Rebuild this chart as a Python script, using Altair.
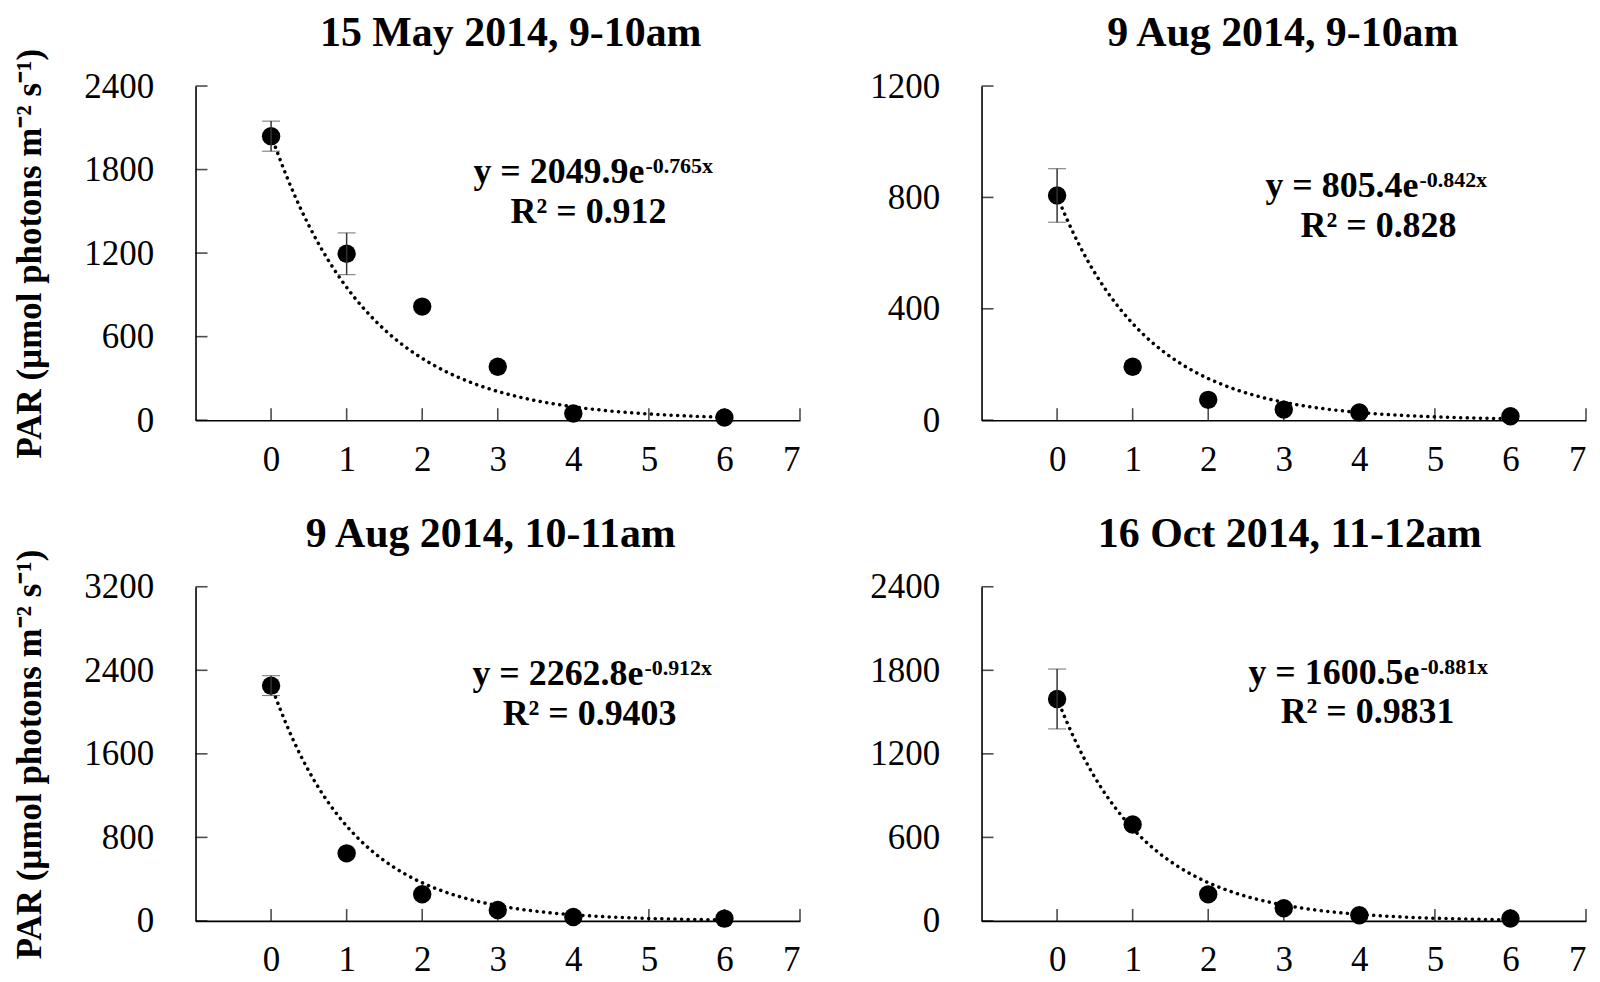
import altair as alt
import pandas as pd

SERIF = "Liberation Serif"

depth = [0, 1, 2, 3, 4, 6]
x_ticks = [0, 1, 2, 3, 4, 5, 6, 7]

titles = ["15 May 2014, 9-10am", "9 Aug 2014, 9-10am",
          "9 Aug 2014, 10-11am", "16 Oct 2014, 11-12am"]

par_may = [2040, 1195, 816, 384, 48, 19]
err_may = [108, 150, 0, 0, 0, 0]
par_aug_9 = [807, 192, 73, 38, 28, 14]
err_aug_9 = [96, 0, 0, 0, 0, 0]
par_aug_10 = [2253, 647, 255, 105, 38, 22]
err_aug_10 = [95, 0, 0, 0, 0, 0]
par_oct = [1594, 693, 191, 91, 41, 17]
err_oct = [215, 0, 0, 0, 0, 0]

fit_a = [2049.9, 805.4, 2262.8, 1600.5]
fit_b = [-0.765, -0.842, -0.912, -0.881]
r2 = ["0.912", "0.828", "0.9403", "0.9831"]

y_max = [2400, 1200, 3200, 2400]
y_ticks = [[0, 600, 1200, 1800, 2400],
           [0, 400, 800, 1200],
           [0, 800, 1600, 2400, 3200],
           [0, 600, 1200, 1800, 2400]]

pars = [par_may, par_aug_9, par_aug_10, par_oct]
errs = [err_may, err_aug_9, err_aug_10, err_oct]

y_title = "PAR (µmol photons m⁻² s⁻¹)"

W, H = 606, 335
TICK = 12
# annotation placement (pixels inside plot area)
title_x = [316, 302, 296, 309]
title_y = -40
eq_x = [450, 438, 449, 439]
eq_y = [97, 111, 98, 97]
r2_x = [394, 398, 395, 387]
r2_y = [137, 151, 139, 137]


def panel(i, left):
    df = pd.DataFrame({"depth": depth, "par": pars[i], "err": errs[i]})
    xscale = alt.Scale(domain=[-1, 7], nice=False, zero=False)
    yscale = alt.Scale(domain=[0, y_max[i]], nice=False)
    ytitle = y_title if left else None
    xaxis = alt.Axis(values=x_ticks, title=None, ticks=False,
                     labelPadding=22, format="d")
    yaxis = alt.Axis(values=y_ticks[i], title=ytitle,
                     ticks=False, labelPadding=42, format="d",
                     titlePadding=36)
    base = alt.Chart(df)
    pts = base.mark_circle(size=340, color="black", opacity=1).encode(
        x=alt.X("depth:Q", scale=xscale, axis=xaxis),
        y=alt.Y("par:Q", scale=yscale, axis=yaxis),
    )
    eb = base.transform_filter("datum.err > 0").transform_calculate(
        lo="datum.par - datum.err", hi="datum.par + datum.err"
    ).mark_errorbar(
        ticks={"size": 18, "color": "#333333", "strokeWidth": 1.5},
        rule={"color": "#333333", "strokeWidth": 1.5},
    ).encode(
        x=alt.X("depth:Q", scale=xscale, title=None),
        y=alt.Y("lo:Q", scale=yscale, title=ytitle),
        y2="hi:Q",
    )
    curve = alt.Chart(alt.sequence(0, 6.001, 0.05, as_="depth")).transform_calculate(
        par=f"{fit_a[i]} * exp({fit_b[i]} * datum.depth)"
    ).mark_line(strokeDash=[0.1, 6.5], strokeCap="round", strokeWidth=3.5,
                color="black").encode(
        x=alt.X("depth:Q", scale=xscale, title=None),
        y=alt.Y("par:Q", scale=yscale, title=ytitle),
    )
    xt = alt.Chart(pd.DataFrame({"tick": x_ticks})).mark_tick(
        orient="vertical", size=TICK, thickness=1.6, color="black",
        yOffset=-TICK / 2
    ).encode(
        x=alt.X("tick:Q", scale=xscale, title=None),
        y=alt.Y(datum=0, scale=yscale, title=ytitle),
    )
    yt = alt.Chart(pd.DataFrame({"tick": y_ticks[i]})).mark_tick(
        orient="horizontal", size=TICK, thickness=1.6, color="black",
        xOffset=TICK / 2
    ).encode(
        x=alt.X(datum=-1, scale=xscale, title=None),
        y=alt.Y("tick:Q", scale=yscale, title=ytitle),
    )
    ttl = alt.Chart(pd.DataFrame({"t": [titles[i]]})).mark_text(
        align="center", baseline="alphabetic", font=SERIF, fontSize=42,
        fontWeight="bold", color="black"
    ).encode(text="t:N", x=alt.value(title_x[i]), y=alt.value(title_y))
    eq_main = alt.Chart(pd.DataFrame({"t": [f"y = {fit_a[i]}e"]})).mark_text(
        align="right", baseline="alphabetic", font=SERIF, fontSize=36,
        fontWeight="bold", color="black"
    ).encode(text="t:N", x=alt.value(eq_x[i]), y=alt.value(eq_y[i]))
    eq_exp = alt.Chart(pd.DataFrame({"t": [f"{fit_b[i]}x"]})).mark_text(
        align="left", baseline="alphabetic", font=SERIF, fontSize=22,
        fontWeight="bold", color="black"
    ).encode(text="t:N", x=alt.value(eq_x[i] + 1), y=alt.value(eq_y[i] - 10))
    eq_r2 = alt.Chart(pd.DataFrame({"t": [f"R² = {r2[i]}"]})).mark_text(
        align="center", baseline="alphabetic", font=SERIF, fontSize=36,
        fontWeight="bold", color="black"
    ).encode(text="t:N", x=alt.value(r2_x[i]), y=alt.value(r2_y[i]))
    return alt.layer(pts, curve, eb, xt, yt, ttl, eq_main, eq_exp, eq_r2).properties(
        width=W, height=H,
    )


row1 = alt.hconcat(panel(0, True), panel(1, False), spacing=69)
row2 = alt.hconcat(panel(2, True), panel(3, False), spacing=69)
chart = alt.vconcat(row1, row2, spacing=36).configure_view(
    stroke=None
).configure_axis(
    grid=False, domainColor="black", domainWidth=1.6,
    labelFont=SERIF, labelFontSize=35, labelColor="black",
    titleFont=SERIF, titleFontSize=35, titleFontWeight="bold",
    titleColor="black",
).properties(
    background="white",
    padding={"left": 5, "top": 3, "right": 5, "bottom": 0},
)

chart.save("out.html", embed_options={"renderer": "svg", "actions": False})
